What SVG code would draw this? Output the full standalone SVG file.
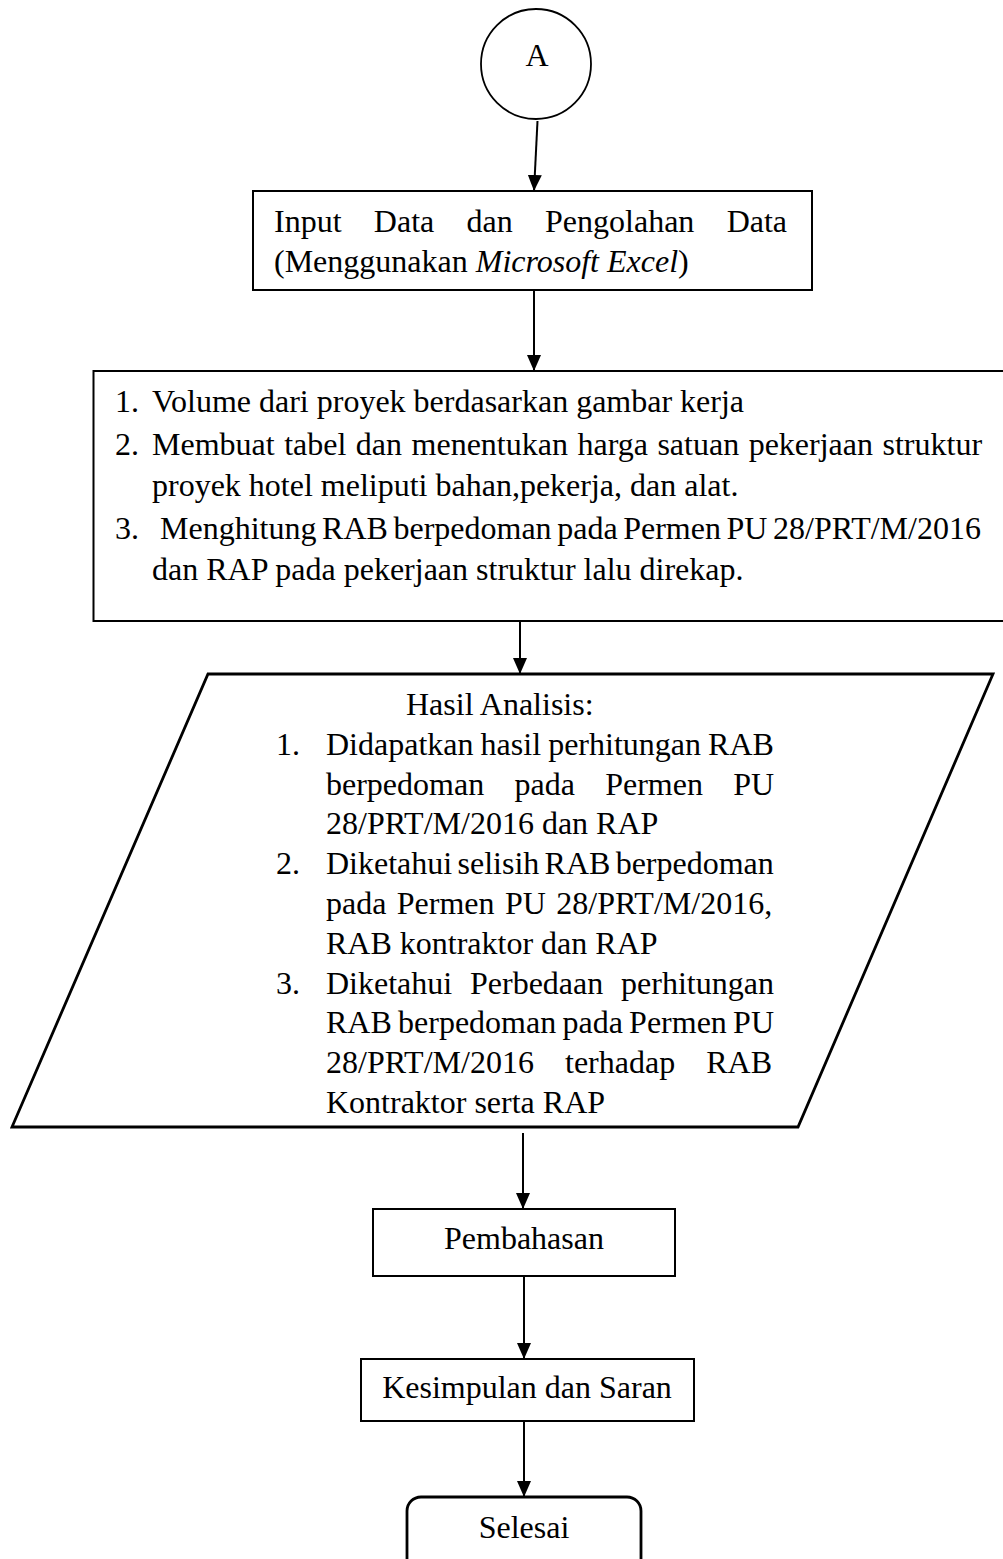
<svg xmlns="http://www.w3.org/2000/svg" width="1003" height="1559" viewBox="0 0 1003 1559">
<style>
text{font-family:"Liberation Serif","Times New Roman",serif;font-size:32px;fill:#000}
.box{fill:#fff;stroke:#000;stroke-width:2}
.thick{fill:#fff;stroke:#000;stroke-width:2.8}
.conn{fill:none;stroke:#000;stroke-width:2;marker-end:url(#arr)}
.c{text-anchor:middle}
</style>
<defs>
<marker id="arr" viewBox="0 0 16 14" markerWidth="16" markerHeight="14" refX="16" refY="7" orient="auto" markerUnits="userSpaceOnUse">
<path d="M0,0 L16,7 L0,14 Z" fill="#000"/>
</marker>
</defs>
<rect width="1003" height="1559" fill="#fff"/>

<g id="connectors">
<line class="conn" x1="537.5" y1="121" x2="534" y2="191"/>
<line class="conn" x1="534" y1="290" x2="534" y2="371"/>
<line class="conn" x1="520" y1="621" x2="520" y2="674"/>
<line class="conn" x1="523" y1="1133" x2="523" y2="1209"/>
<line class="conn" x1="524" y1="1277" x2="524" y2="1359"/>
<line class="conn" x1="524" y1="1421" x2="524" y2="1497"/>
</g>

<g id="node-A">
<circle cx="536" cy="64" r="55" fill="#fff" stroke="#000" stroke-width="1.8"/>
<text x="537" y="66" class="c">A</text>
</g>

<g id="node-input">
<rect class="box" x="253" y="191" width="559" height="99"/>
<text x="274" y="232" word-spacing="24.3">Input Data dan Pengolahan Data</text>
<text x="274" y="272">(Menggunakan <tspan font-style="italic">Microsoft Excel</tspan>)</text>
</g>

<g id="node-langkah">
<rect class="box" x="93.5" y="371" width="920" height="250"/>
<text x="115" y="412">1.</text>
<text x="152" y="412">Volume dari proyek berdasarkan gambar kerja</text>
<text x="115" y="455">2.</text>
<text x="152" y="455" word-spacing="1.5">Membuat tabel dan menentukan harga satuan pekerjaan struktur</text>
<text x="152" y="496">proyek hotel meliputi bahan,pekerja, dan alat.</text>
<text x="115" y="539">3.</text>
<text x="160" y="539" word-spacing="-2.4">Menghitung RAB berpedoman pada Permen PU 28/PRT/M/2016</text>
<text x="152" y="580">dan RAP pada pekerjaan struktur lalu direkap.</text>
</g>

<g id="node-hasil">
<polygon class="thick" points="208,674 993,674 798,1127 12,1127"/>
<text x="406" y="715">Hasil Analisis:</text>
<text x="276" y="755">1.</text>
<text x="326" y="755" word-spacing="-0.9">Didapatkan hasil perhitungan RAB</text>
<text x="326" y="794.6" word-spacing="22.3">berpedoman pada Permen PU</text>
<text x="326" y="834.4">28/PRT/M/2016 dan RAP</text>
<text x="276" y="874.2">2.</text>
<text x="326" y="874.2" word-spacing="-2.7">Diketahui selisih RAB berpedoman</text>
<text x="326" y="914" word-spacing="2.4">pada Permen PU 28/PRT/M/2016,</text>
<text x="326" y="953.8">RAB kontraktor dan RAP</text>
<text x="276" y="993.6">3.</text>
<text x="326" y="993.6" word-spacing="9.8">Diketahui Perbedaan perhitungan</text>
<text x="326" y="1033.4" word-spacing="-1.75">RAB berpedoman pada Permen PU</text>
<text x="326" y="1073.2" word-spacing="23.1">28/PRT/M/2016 terhadap RAB</text>
<text x="326" y="1113">Kontraktor serta RAP</text>
</g>

<g id="node-pembahasan">
<rect class="box" x="373" y="1209" width="302" height="67"/>
<text x="524" y="1249" class="c">Pembahasan</text>
</g>

<g id="node-kesimpulan">
<rect class="box" x="361" y="1359" width="333" height="62"/>
<text x="527" y="1398" class="c">Kesimpulan dan Saran</text>
</g>

<g id="node-selesai">
<rect x="407" y="1497" width="234" height="90" rx="14" ry="14" fill="#fff" stroke="#000" stroke-width="2.8"/>
<text x="524" y="1538" class="c">Selesai</text>
</g>
</svg>
